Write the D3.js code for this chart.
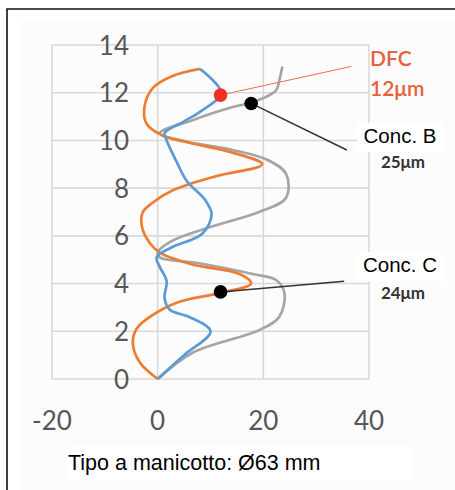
<!DOCTYPE html>
<html>
<head>
<meta charset="utf-8">
<script src="https://cdn.jsdelivr.net/npm/d3@7"></script>
<style>
  html, body { margin: 0; padding: 0; background: #fff; }
  svg { display: block; }
  .tick-label { font-family: Lato, "Open Sans", sans-serif; fill: #575757; }
</style>
</head>
<body>
<svg id="chart" width="455" height="490"></svg>
<script>
// depth profiles: [value, depth]
const blue = [
  [0, 0], [5, 1], [10, 2], [6, 2.6], [2.3, 2.9], [1.3, 3.4], [1.7, 4.1], [0.4, 4.7],
  [-0.2, 5.1], [2.5, 5.5], [8.5, 6.1], [10.2, 6.9], [9, 7.5], [5.5, 8.3], [3.6, 9.1],
  [1.7, 10], [1.3, 10.3], [5, 10.8], [8, 11.2], [12, 12], [8, 13]
];
const orange = [
  [0, 0], [-3.4, 0.7], [-4.7, 1.5], [-4, 2.1], [-1.5, 2.6], [3.6, 3.2], [11.7, 3.6],
  [17.7, 4.0], [15.5, 4.4], [6.6, 4.8], [0.4, 5.3], [-1.5, 5.7], [-3, 6.4], [-2.8, 7.0],
  [-0.9, 7.4], [2.8, 7.9], [11, 8.5], [19.8, 9.0], [14, 9.5], [6, 9.9], [1, 10.2],
  [-2.1, 10.7], [-2.5, 11.4], [-0.9, 12.2], [2.8, 12.7], [8, 13]
];
const grey = [
  [0, 0], [6.6, 1.1], [19.2, 2.05], [23, 2.6], [24, 3.6], [22.4, 4.15], [18, 4.4],
  [7.9, 4.85], [0.4, 5.1], [0, 5.3], [2.8, 5.8], [10.4, 6.4], [19.2, 7.0], [24.3, 7.6],
  [24.3, 8.6], [20.6, 9.2], [14.2, 9.6], [5.5, 9.95], [0.4, 10.3], [6.6, 10.85],
  [14.2, 11.4], [18, 11.6], [22.4, 12.1], [23, 12.5], [23.6, 13.1]
];
const xTicks = [-20, 0, 20, 40];
const yTicks = [0, 2, 4, 6, 8, 10, 12, 14];

// annotations: marker point, leader end, label lines
const notes = [
  { id: 'dfc', at: [11.9, 11.9], to: [36.6, 13.1], lines: ['DFC', '12μm'] },
  { id: 'b', at: [17.7, 11.55], to: [35.8, 9.6], lines: ['Conc. B', '25μm'] },
  { id: 'c', at: [11.9, 3.65], to: [35.3, 4.1], lines: ['Conc. C', '24μm'] }
];
const caption = 'Tipo a manicotto: Ø63 mm';

const svg = d3.select('#chart');
const x = d3.scaleLinear().domain([-20, 40]).range([52, 369]);
const y = d3.scaleLinear().domain([0, 14]).range([379, 45]);

// outer frame and very faint panel
svg.append('rect').attr('x', 20).attr('y', 20).attr('width', 435).attr('height', 470)
  .attr('fill', '#fcfcfc');
svg.append('path').attr('d', 'M7,490 V9 H455')
  .attr('fill', 'none').attr('stroke', '#111').attr('stroke-width', 1.6);

// grid
const grid = svg.append('g');
grid.selectAll('line.h').data(yTicks).join('line')
  .attr('x1', x(-20)).attr('x2', x(40))
  .attr('y1', d => y(d)).attr('y2', d => y(d))
  .attr('stroke', '#d9d9d9').attr('stroke-width', 1.6);
grid.selectAll('line.v').data(xTicks).join('line')
  .attr('y1', y(0)).attr('y2', y(14))
  .attr('x1', d => x(d)).attr('x2', d => x(d))
  .attr('stroke', '#d9d9d9').attr('stroke-width', 1.6);

// tick labels
svg.append('g').selectAll('text').data(yTicks).join('text')
  .attr('class', 'tick-label')
  .attr('x', 129).attr('y', d => y(d) + 3)
  .attr('text-anchor', 'end').attr('dominant-baseline', 'middle')
  .style('font-size', '26px')
  .text(d => d);
svg.append('g').selectAll('text').data(xTicks).join('text')
  .attr('class', 'tick-label')
  .attr('x', d => x(d)).attr('y', 423)
  .attr('text-anchor', 'middle').attr('dominant-baseline', 'middle')
  .style('font-size', '26px')
  .text(d => d);

// profile lines
const line = d3.line()
  .x(d => x(d[0])).y(d => y(d[1]))
  .curve(d3.curveCatmullRom.alpha(0.5));
const series = [
  { data: grey, color: '#a5a5a5' },
  { data: orange, color: '#ed7d31' },
  { data: blue, color: '#5b9bd5' }
];
svg.append('g').selectAll('path').data(series).join('path')
  .attr('d', d => line(d.data))
  .attr('fill', 'none')
  .attr('stroke', d => d.color)
  .attr('stroke-width', 2.7)
  .attr('stroke-linejoin', 'round');

// annotation leaders + markers
const ann = svg.append('g');
ann.selectAll('line').data(notes).join('line')
  .attr('x1', d => x(d.at[0])).attr('y1', d => y(d.at[1]))
  .attr('x2', d => x(d.to[0])).attr('y2', d => y(d.to[1]))
  .attr('stroke', d => d.id === 'dfc' ? '#ef6a5a' : '#333')
  .attr('stroke-width', d => d.id === 'dfc' ? 1 : 1.5);
ann.selectAll('circle').data(notes).join('circle')
  .attr('cx', d => x(d.at[0])).attr('cy', d => y(d.at[1]))
  .attr('r', 6.8)
  .attr('fill', d => d.id === 'dfc' ? '#ee3124' : '#000');

// DFC label
const dfc = notes[0];
svg.append('g').selectAll('text').data(dfc.lines).join('text')
  .attr('x', 370).attr('y', (d, i) => 61 + i * 30)
  .attr('dominant-baseline', 'middle')
  .style('font-family', 'Lato, sans-serif').style('font-weight', 600)
  .style('font-size', '21px').attr('fill', '#e8603c')
  .text(d => d);

// Conc. labels with white boxes
const boxes = [
  { note: notes[1], cy: 138, sy: 164 },
  { note: notes[2], cy: 267, sy: 295 }
];
boxes.forEach(b => {
  svg.append('rect').attr('x', 357).attr('y', b.cy - 15).attr('width', 86).attr('height', 29)
    .attr('fill', '#fff');
  svg.append('text').attr('x', 400).attr('y', b.cy)
    .attr('text-anchor', 'middle').attr('dominant-baseline', 'middle')
    .style('font-family', '"Liberation Sans", Arial, sans-serif').style('font-size', '20.5px')
    .attr('fill', '#000').text(b.note.lines[0]);
  svg.append('text').attr('x', 403).attr('y', b.sy)
    .attr('text-anchor', 'middle').attr('dominant-baseline', 'middle')
    .style('font-family', 'Lato, sans-serif').style('font-weight', 700)
    .style('font-size', '17px').attr('fill', '#333').text(b.note.lines[1]);
});

// caption
svg.append('rect').attr('x', 66).attr('y', 446).attr('width', 348).attr('height', 34)
  .attr('fill', '#fff');
svg.append('text').attr('x', 68).attr('y', 464)
  .attr('dominant-baseline', 'middle')
  .style('font-family', '"Liberation Sans", Arial, sans-serif').style('font-size', '21.5px')
  .attr('fill', '#000').text(caption);
</script>
</body>
</html>
